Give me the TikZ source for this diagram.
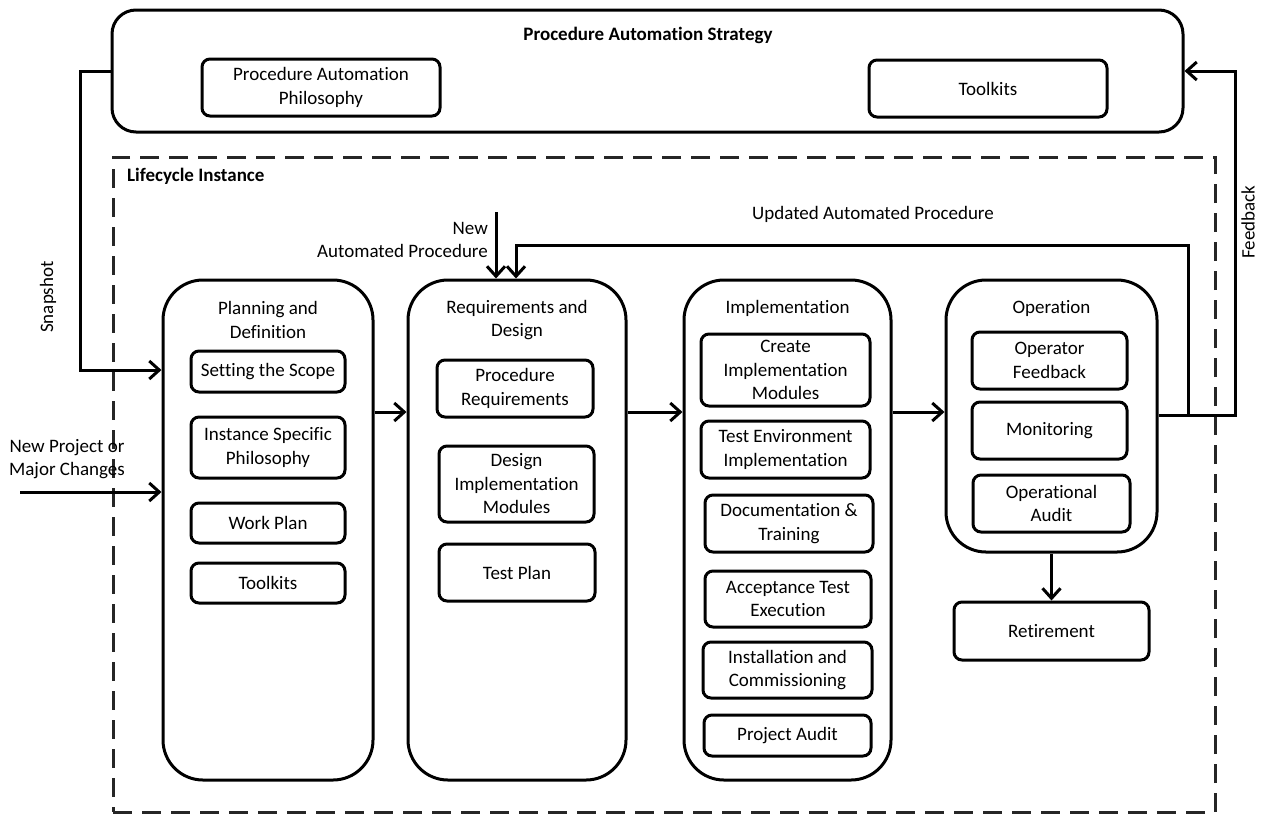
\documentclass[tikz,border=0pt]{standalone}
\usepackage{fontspec}
\setmainfont{Carlito}[Ligatures=NoCommon]
\usetikzlibrary{arrows.meta}
\begin{document}
\begin{tikzpicture}[x=1pt,y=-1pt,
  every node/.style={font=\fontsize{19}{23.5}\selectfont},
  ln/.style={line width=3pt},
  arr/.style={ln,-{Straight Barb[length=10pt,width=18pt]}},
  sub/.style={draw,ln,rounded corners=8pt,align=center,inner sep=0pt},
  stage/.style={draw,ln,rounded corners=40pt,inner sep=0pt},
  txt/.style={align=center,inner sep=0pt},
  frame/.style={draw=black!85,line width=3pt,dash pattern=on 19pt off 10pt,inner sep=0pt}]
\useasboundingbox (0,0) rectangle (1266,815);

% strategy block
\node[draw,ln,rounded corners=24pt,minimum width=1071pt,minimum height=122pt] (top) at (647.5,71) {};
\node[txt,font=\fontsize{19}{23.5}\selectfont\bfseries] (toptitle) at (648,35) {Procedure Automation Strategy};
\node[sub,minimum width=238pt,minimum height=57pt] (pap) at (321,87.5) {Procedure Automation\\Philosophy};
\node[sub,minimum width=238pt,minimum height=57pt] (tk) at (988,88.5) {Toolkits};

% lifecycle frame
\node[frame,minimum width=1102pt,minimum height=655pt] (life) at (664,484.5) {};
\node[txt,anchor=west,font=\fontsize{19}{23.5}\selectfont\bfseries] (lifetitle) at (127,176) {Lifecycle Instance};

% stages
\node[stage,minimum width=210pt,minimum height=500pt] (plan) at (268,530) {};
\node[stage,minimum width=218pt,minimum height=500pt] (req) at (517,530) {};
\node[stage,minimum width=207pt,minimum height=500pt] (impl) at (787.5,530) {};
\node[stage,minimum width=211pt,minimum height=272pt] (op) at (1051.5,416) {};
\node[sub,minimum width=195pt,minimum height=58pt] (ret) at (1051.5,631) {Retirement};

\node[txt] (plant) at (268,320) {Planning and\\Definition};
\node[txt] (reqt) at (517,320) {Requirements and\\Design};
\node[txt] (implt) at (787.5,308) {Implementation};
\node[txt] (opt) at (1051.5,308) {Operation};

% planning and definition
\node[sub,minimum width=154pt,minimum height=41pt] (scope) at (268,371.5) {Setting the Scope};
\node[sub,minimum width=154pt,minimum height=61pt] (isp) at (268,447.5) {Instance Specific\\Philosophy};
\node[sub,minimum width=154pt,minimum height=40pt] (wp) at (268,523) {Work Plan};
\node[sub,minimum width=154pt,minimum height=40pt] (ptk) at (268,583) {Toolkits};

% requirements and design
\node[sub,minimum width=156pt,minimum height=57pt] (preq) at (515,388.5) {Procedure\\Requirements};
\node[sub,minimum width=155pt,minimum height=76pt] (dim) at (516.5,484) {Design\\Implementation\\Modules};
\node[sub,minimum width=156pt,minimum height=57pt] (tp) at (517,572.5) {Test Plan};

% implementation
\node[sub,minimum width=169pt,minimum height=72pt] (cim) at (785.5,370) {Create\\Implementation\\Modules};
\node[sub,minimum width=169pt,minimum height=57pt] (tei) at (785.5,449.5) {Test Environment\\Implementation};
\node[sub,minimum width=168pt,minimum height=57pt] (dt) at (789,523.5) {Documentation \&\\Training};
\node[sub,minimum width=166pt,minimum height=56pt] (ate) at (788,599) {Acceptance Test\\Execution};
\node[sub,minimum width=169pt,minimum height=56pt] (ic) at (787.5,670) {Installation and\\Commissioning};
\node[sub,minimum width=167pt,minimum height=41pt] (pa) at (787.5,735.5) {Project Audit};

% operation
\node[sub,minimum width=155pt,minimum height=57pt] (ofb) at (1049.5,360.5) {Operator\\Feedback};
\node[sub,minimum width=155pt,minimum height=57pt] (mon) at (1049.5,430.5) {Monitoring};
\node[sub,minimum width=157pt,minimum height=57pt] (oa) at (1051.5,503.5) {Operational\\Audit};

% flow between stages
\coordinate (flow) at (0,412);
\draw[arr] (plan.east |- flow) -- (req.west |- flow);
\draw[arr] (req.east |- flow) -- (impl.west |- flow);
\draw[arr] (impl.east |- flow) -- (op.west |- flow);
\draw[arr] (op.south) -- (ret.north);

% snapshot
\coordinate (snap) at (80,71);
\draw[arr] (top.west) -- (snap) |- (plan.west |- 0,370);
\node[txt,rotate=90] (snapt) at (48,297) {Snapshot};

% new project
\coordinate (np) at (20,492);
\draw[arr] (np) -- (plan.west |- np);
\node[txt] (npt) at (67,459) {New Project or\\Major Changes};

% new automated procedure
\coordinate (nap) at (496,212);
\draw[arr] (nap) -- (req.north -| nap);
\node[txt,align=right,anchor=east] (napt) at (488,240) {New\\Automated Procedure};

% feedback and updated procedure
\coordinate (fbout) at (1188,415);
\coordinate (fbcorner) at (1235,415);
\draw[arr] (op.east |- fbcorner) -- (fbcorner) |- (top.east);
\node[txt,rotate=90] (fbt) at (1248,222) {Feedback};
\coordinate (updturn) at (516,245);
\draw[arr] (fbout) |- (updturn) -- (updturn |- req.north);
\node[txt] (updt) at (873,214) {Updated Automated Procedure};
\end{tikzpicture}
\end{document}
